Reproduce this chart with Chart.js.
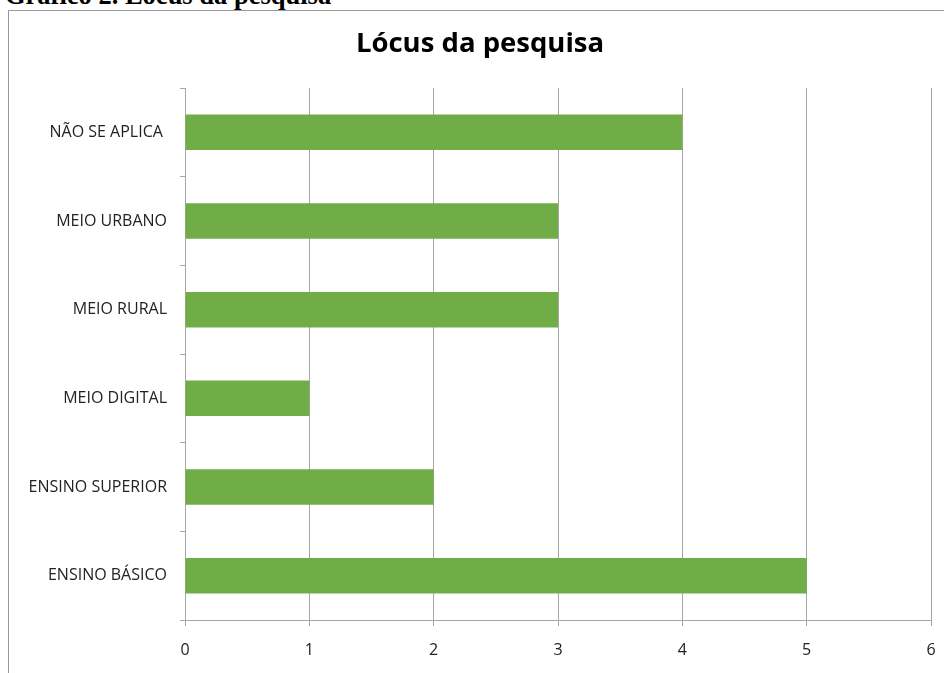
<!DOCTYPE html>
<html>
<head>
<meta charset="utf-8">
<script src="https://cdn.jsdelivr.net/npm/chart.js@4/dist/chart.umd.min.js"></script>
<style>
  html, body { margin: 0; padding: 0; background: #fff; width: 944px; height: 673px; overflow: hidden; }
  #caption { position: absolute; left: 5px; top: -18px; font: bold 26.5px "Liberation Serif", "Times New Roman", serif; line-height: 26px; color: #000; white-space: nowrap; }
  #box { position: absolute; left: 8px; top: 10px; width: 940px; height: 670px; border: 1px solid #9a9a9a; background: #fff; }
  #wrap { position: absolute; left: 0; top: 0; width: 935px; height: 662px; }
</style>
</head>
<body>
<div id="caption">Gráfico 2. Lócus da pesquisa</div>
<div id="box"><div id="wrap"><canvas id="c"></canvas></div></div>
<script>
const categories = ["NÃO SE APLICA ", "MEIO URBANO", "MEIO RURAL", "MEIO DIGITAL", "ENSINO SUPERIOR", "ENSINO BÁSICO"];
const values = [4, 3, 3, 1, 2, 5];
const xTicks = [0, 1, 2, 3, 4, 5, 6];
const chartTitle = "Lócus da pesquisa";

new Chart(document.getElementById('c'), {
  type: 'bar',
  data: {
    labels: categories,
    datasets: [{ data: values, backgroundColor: '#70AD47', borderWidth: 0, barPercentage: 0.4, categoryPercentage: 1.0 }]
  },
  options: {
    indexAxis: 'y',
    responsive: true,
    maintainAspectRatio: false,
    animation: false,
    layout: { padding: { left: 20, right: 13, top: 0, bottom: 0 } },
    plugins: {
      legend: { display: false },
      tooltip: { enabled: false },
      title: {
        display: true,
        text: chartTitle,
        color: '#000',
        font: { family: '"Open Sans", sans-serif', size: 27.5, weight: 'bold' },
        padding: { top: 17, bottom: 27 }
      }
    },
    scales: {
      x: {
        min: 0, max: 6,
        afterBuildTicks: (axis) => { axis.ticks = xTicks.map(v => ({ value: v })); },
        grid: { color: '#a6a6a6', lineWidth: 1, tickLength: 6, drawTicks: true },
        border: { color: '#a6a6a6', width: 1 },
        ticks: { color: '#222', font: { family: '"Open Sans", sans-serif', size: 16 }, padding: 15 },
        afterFit: (axis) => { axis.height = 53; axis.paddingLeft = 0; axis.paddingRight = 0; }
      },
      y: {
        grid: { drawOnChartArea: false, drawTicks: true, tickLength: 5, color: '#a6a6a6', offset: true },
        border: { color: '#a6a6a6', width: 1 },
        ticks: { color: '#222', font: { family: '"Open Sans", sans-serif', size: 16 }, padding: 13 },
        afterFit: (axis) => { axis.width = 156; axis.paddingTop = 0; axis.paddingBottom = 0; }
      }
    }
  }
});
</script>
</body>
</html>
